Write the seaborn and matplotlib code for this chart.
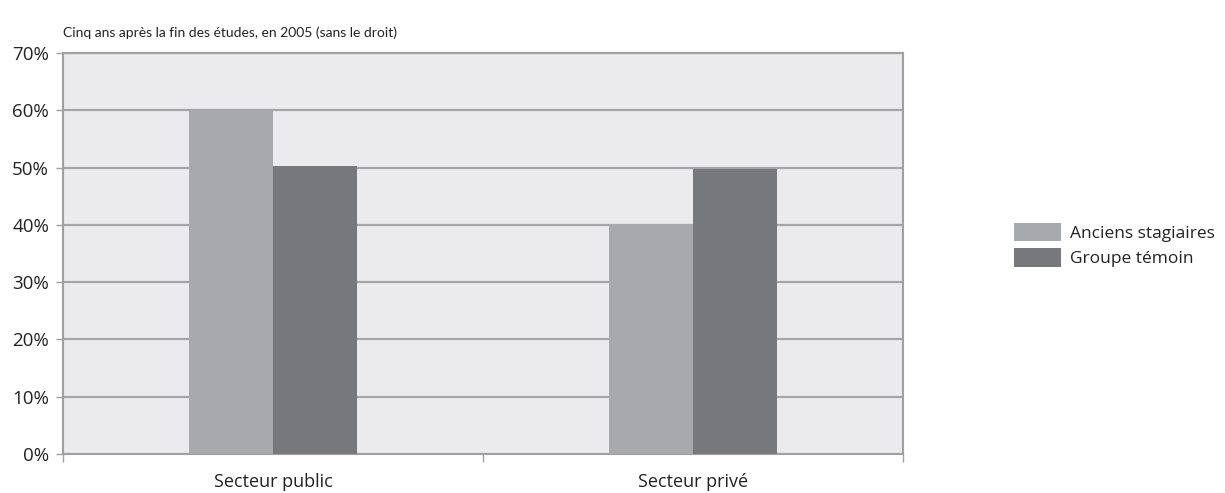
import pandas as pd
import matplotlib.pyplot as plt
import seaborn as sns
from matplotlib.ticker import FixedLocator, PercentFormatter

secteurs = ["Secteur public", "Secteur privé"]
groupes = ["Anciens stagiaires", "Groupe témoin"]
anciens = [60.0, 40.1]
temoin = [50.3, 49.7]

df = pd.DataFrame({
    "secteur": secteurs * 2,
    "groupe": [groupes[0]] * 2 + [groupes[1]] * 2,
    "valeur": anciens + temoin,
})

sns.set_style("white")
plt.rcParams["font.family"] = ["Open Sans", "DejaVu Sans"]

fig = plt.figure(figsize=(12.25, 4.93), dpi=100)
ax = fig.add_axes([63 / 1225, 1 - 454 / 493, 840 / 1225, 401 / 493])
ax.set_facecolor("#ebebed")

sns.barplot(data=df, x="secteur", y="valeur", hue="groupe", order=secteurs,
            hue_order=groupes, palette=["#a8a9ac", "#77787c"], width=0.4,
            saturation=1, linewidth=0, ax=ax, zorder=3)

ax.set_xlim(-0.5, 1.5)
ax.set_ylim(0, 70)
ax.set_yticks(range(0, 71, 10))
ax.yaxis.set_major_formatter(PercentFormatter(decimals=0))
ax.grid(axis="y", color="#a5a5a7", linewidth=1.6, zorder=0)
ax.set_axisbelow(True)

ax.xaxis.set_major_locator(FixedLocator([-0.5, 0.5, 1.5]))
ax.xaxis.set_minor_locator(FixedLocator([0, 1]))
ax.set_xticklabels([])
ax.set_xticklabels(secteurs, minor=True)
ax.tick_params(axis="x", which="major", length=6, width=1, color="#a0a0a0",
               direction="out")
ax.tick_params(axis="x", which="minor", length=0, pad=14, labelsize=13,
               labelcolor="#222222")
ax.tick_params(axis="y", length=5, width=1, color="#a0a0a0", direction="out",
               labelsize=13.5, labelcolor="#222222", pad=5)
ax.tick_params(bottom=True, left=True)
for s in ax.spines.values():
    s.set_color("#a0a0a0")
    s.set_linewidth(1.5)
ax.set_xlabel("")
ax.set_ylabel("")

handles, labels = ax.get_legend_handles_labels()
ax.get_legend().remove()
fig.legend(handles, labels, loc="center left", bbox_to_anchor=(998 / 1225, 1 - 245 / 493),
           frameon=False, fontsize=12.5, handlelength=2.7, handleheight=1.25,
           handletextpad=0.55, labelspacing=0.4, labelcolor="#222222")

fig.text(63 / 1225, 1 - 33 / 493, "Cinq ans après la fin des études, en 2005 (sans le droit)",
         fontsize=10, color="#222222", va="center", ha="left",
         family=["Lato", "DejaVu Sans"])

fig.savefig("out.png", dpi=100)
